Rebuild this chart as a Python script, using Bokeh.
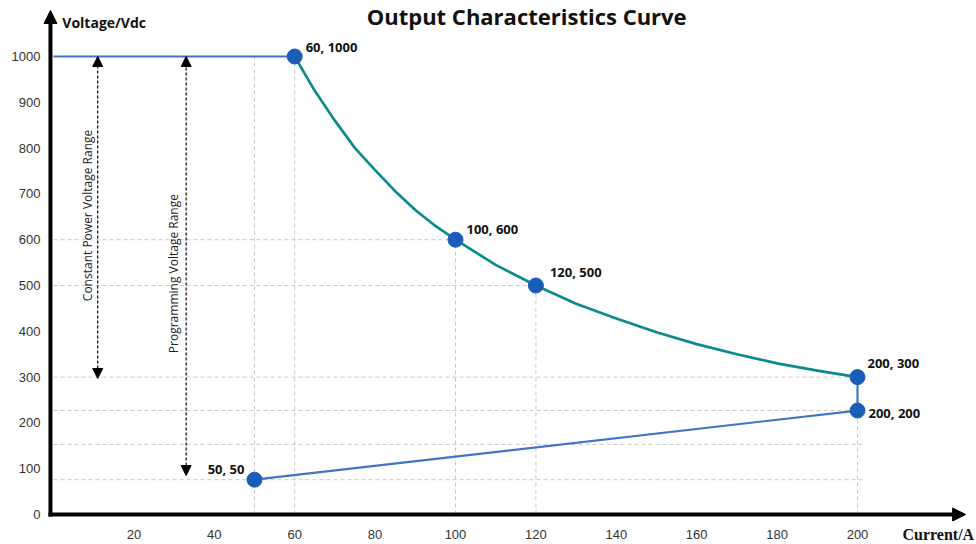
import math
from bokeh.plotting import figure
from bokeh.models import (ColumnDataSource, Range1d, FixedTicker, Arrow, NormalHead, Label)
from bokeh.core.properties import value
from bokeh.embed import file_html
from bokeh.resources import INLINE

# ---------------- data ----------------
# constant-voltage segment (blue, top)
cv_current = [0, 60]
cv_voltage = [1000, 1000]
# constant-power curve (teal)
cp_current = [60, 65, 70, 75, 80, 85, 90, 95, 100, 110, 120, 130, 140, 150, 160, 170, 180, 190, 200]
cp_voltage = [1000, 925, 860, 800, 752, 706, 665, 630, 600, 545, 500, 460, 428, 398, 372, 350, 330, 314, 300]
# lower boundary (blue)
low_current = [200, 200, 50]
low_voltage = [300, 227, 76]
# labelled points
pt_current = [60, 100, 120, 200, 200, 50]
pt_voltage = [1000, 600, 500, 300, 227, 76]
pt_labels = ["60, 1000", "100, 600", "120, 500", "200, 300", "200, 200", "50, 50"]
# reference grid lines
gh_voltage = [600, 500, 300, 227, 153, 76]
gh_current_end = [100, 120, 200, 201.5, 201.5, 201.5]
gv_current = [50, 60, 100, 120, 200]
gv_voltage_top = [1000, 1000, 600, 500, 227]
# axis ticks
x_ticks = [20, 40, 60, 80, 100, 120, 140, 160, 180, 200]
y_ticks = [0, 100, 200, 300, 400, 500, 600, 700, 800, 900, 1000]
# range arrows
cpv_range = [1000, 297]
prog_range = [1000, 85]

# ---------------- layout / style ----------------
label_dx = [11, 11, 14, 10, 11, -10]
label_dy = [-10, -11, -14, -14, 2, -11]
label_align = ["left", "left", "left", "left", "left", "right"]

BLUE = "#4472C4"
TEAL = "#0E8A8E"
MARK = "#1A5DB8"
GRID = "#C8C8C8"

# the plotting frame covers the whole canvas; axes are placed inside it
X0, X1 = -13.18, 229.6
Y0, Y1 = -65.5, 1122.3
AX_X = -0.75   # position of the vertical axis
AX_Y = 0       # position of the horizontal axis

p = figure(width=976, height=544, x_range=Range1d(X0, X1), y_range=Range1d(Y0, Y1),
           min_border_left=0, min_border_right=0, min_border_top=0, min_border_bottom=0,
           output_backend="svg", toolbar_location=None)
p.grid.visible = False
p.outline_line_color = None
p.background_fill_color = "white"

for ax in (p.xaxis[0], p.yaxis[0]):
    ax.axis_line_color = None
    ax.major_tick_line_color = None
    ax.minor_tick_line_color = None
    ax.major_tick_out = 0
    ax.major_tick_in = 0
    ax.major_label_text_font = "Liberation Sans"
    ax.major_label_text_font_size = "13px"
    ax.major_label_text_color = "#333333"
p.xaxis.ticker = FixedTicker(ticks=x_ticks)
p.yaxis.ticker = FixedTicker(ticks=y_ticks)
p.xaxis.fixed_location = AX_Y
p.yaxis.fixed_location = AX_X
p.xaxis.major_label_standoff = 15
p.yaxis.major_label_standoff = 10

# grid lines
p.segment(x0=[0] * len(gh_voltage), y0=gh_voltage, x1=gh_current_end, y1=gh_voltage,
          line_color=GRID, line_dash="4 3", line_width=1)
p.segment(x0=gv_current, y0=[0] * len(gv_current), x1=gv_current, y1=gv_voltage_top,
          line_color=GRID, line_dash="4 3", line_width=1)

# dashed range arrows
for xv, rng in ((11, cpv_range), (33, prog_range)):
    p.add_layout(Arrow(x_start=xv, y_start=rng[1], x_end=xv, y_end=rng[0],
                       line_color="black", line_width=1.2, line_dash="3 2",
                       start=NormalHead(size=10, fill_color="black", line_color="black", line_width=1),
                       end=NormalHead(size=10, fill_color="black", line_color="black", line_width=1)))

# series lines
p.line(cv_current, cv_voltage, line_color=BLUE, line_width=2.2)
p.line(cp_current, cp_voltage, line_color=TEAL, line_width=2.7, line_join="round")
p.line(low_current, low_voltage, line_color=BLUE, line_width=2.2)

# markers
p.scatter(pt_current, pt_voltage, size=15, fill_color=MARK, line_color=MARK)

src = ColumnDataSource(dict(x=pt_current, y=pt_voltage, t=pt_labels,
                            dx=label_dx, dy=label_dy, al=label_align))
p.text(x="x", y="y", text="t", x_offset="dx", y_offset="dy", text_align="al",
       text_baseline="middle", source=src, text_font=value("Open Sans"),
       text_font_style="bold", text_font_size="13px", text_color="#111111")

# rotated range texts
p.text(x=[8.5], y=[653], text=["Constant Power Voltage Range"], angle=math.pi / 2,
       text_align="center", text_baseline="middle", text_font=value("Open Sans"),
       text_font_size="12px", text_color="#222222")
p.text(x=[29.9], y=[526], text=["Programming Voltage Range"], angle=math.pi / 2,
       text_align="center", text_baseline="middle", text_font=value("Open Sans"),
       text_font_size="12px", text_color="#222222")

# axes with arrow heads
p.add_layout(Arrow(x_start=AX_X, y_start=-4.3, x_end=AX_X, y_end=1100.4,
                   line_color="black", line_width=4,
                   end=NormalHead(size=13, fill_color="black", line_color="black", line_width=1)))
p.add_layout(Arrow(x_start=-1.25, y_start=AX_Y, x_end=226.9, y_end=AX_Y,
                   line_color="black", line_width=4,
                   end=NormalHead(size=13, fill_color="black", line_color="black", line_width=1)))

# axis titles
p.add_layout(Label(x=2.2, y=1074, text="Voltage/Vdc", text_align="left", text_baseline="middle",
                   text_font="Open Sans", text_font_style="bold", text_font_size="14px",
                   text_color="#111111"))
p.add_layout(Label(x=220.1, y=-43.7, text="Current/A", text_align="center", text_baseline="middle",
                   text_font="Liberation Serif", text_font_style="bold", text_font_size="16px",
                   text_color="#111111"))

# chart title (at the very top, as in the reference)
p.add_layout(Label(x=117.7, y=1121.5, text="Output Characteristics Curve", text_align="center",
                   text_baseline="top", text_font="Open Sans", text_font_style="bold",
                   text_font_size="22px", text_color="#111111"))

open("out.html", "w").write(file_html(p, INLINE))
